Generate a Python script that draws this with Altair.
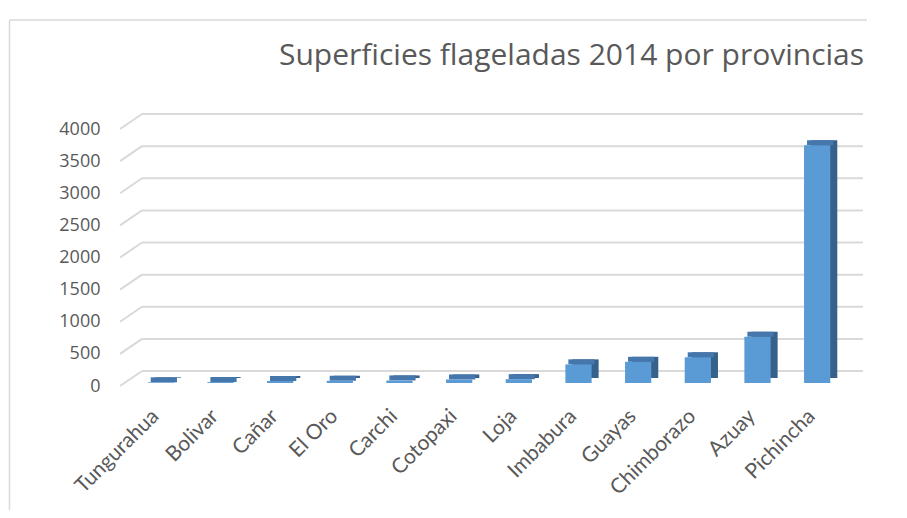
import altair as alt
import pandas as pd

provincias = ["Tungurahua", "Bolivar", "Cañar", "El Oro", "Carchi", "Cotopaxi",
              "Loja", "Imbabura", "Guayas", "Chimborazo", "Azuay", "Pichincha"]
superficie = [10, 15, 30, 35, 40, 55, 60, 290, 330, 400, 720, 3700]
ticks = [0, 500, 1000, 1500, 2000, 2500, 3000, 3500, 4000]

titulo = "Superficies flageladas 2014 por provincias"

df = pd.DataFrame({"provincia": provincias, "superficie": superficie})
grid_df = pd.DataFrame({"v": ticks})
one = pd.DataFrame({"t": [titulo]})

W, H = 716, 257
FONT = "Lato"
GREY = "#595959"

xsc = alt.Scale(domain=provincias, paddingInner=0.56, paddingOuter=0.28)
ysc = alt.Scale(domain=[0, 4000], nice=False)

yaxis = alt.Axis(title=None, values=ticks, format="d", grid=False, domain=False,
                 ticks=False, labelPadding=31, labelFont="Open Sans",
                 labelFontSize=18, labelColor=GREY, labelOffset=3)

xenc = alt.X("provincia:N", scale=xsc, sort=provincias,
             axis=alt.Axis(title=None, labelAngle=-45, labelAlign="right",
                           labelBaseline="top", labelPadding=22, labelOffset=-13,
                           domain=False, ticks=False, labelFont=FONT,
                           labelFontSize=21, labelColor=GREY, labelBound=False))
yenc = alt.Y("superficie:Q", scale=ysc, axis=yaxis)

grid_back = alt.Chart(grid_df).mark_rule(color="#D9D9D9", strokeWidth=2, yOffset=-12).encode(
    y=alt.Y("v:Q", scale=ysc, axis=yaxis),
    x=alt.value(11), x2=alt.value(732))
grid_slant = alt.Chart(grid_df).mark_rule(color="#D9D9D9", strokeWidth=2,
                                          yOffset=3, y2Offset=-12).encode(
    y=alt.Y("v:Q", scale=ysc, axis=yaxis), y2="v:Q",
    x=alt.value(-11), x2=alt.value(11))

side = alt.Chart(df).mark_bar(color="#36618B", xOffset=7, yOffset=-5, y2Offset=-5).encode(
    x=xenc, y=yenc)
top = alt.Chart(df).mark_bar(color="#4576AC", xOffset=3, yOffset=-5).encode(
    x=xenc, y=yenc, y2="superficie:Q")
front = alt.Chart(df).mark_bar(color="#5B9BD5").encode(x=xenc, y=yenc)

frame_v = alt.Chart(one).mark_rule(color="#D9D9D9", strokeWidth=1.5).encode(
    x=alt.value(-121.5), y=alt.value(-106), y2=alt.value(400))
frame_h = alt.Chart(one).mark_rule(color="#D9D9D9", strokeWidth=1.5).encode(
    x=alt.value(-121.5), x2=alt.value(790), y=alt.value(-106))

title_txt = alt.Chart(one).mark_text(align="left", baseline="alphabetic", font="Open Sans",
                                     fontSize=30, color=GREY).encode(
    text="t:N", x=alt.value(148), y=alt.value(-61))

chart = alt.layer(frame_v, frame_h, grid_back, grid_slant, side, top, front, title_txt).properties(
    width=W, height=H,
    autosize="none",
    padding={"left": 123, "top": 118, "right": 20, "bottom": 127},
).resolve_scale(x="shared", y="shared").configure_view(stroke=None)

chart.save("out.html", embed_options={"renderer": "svg", "actions": False})
